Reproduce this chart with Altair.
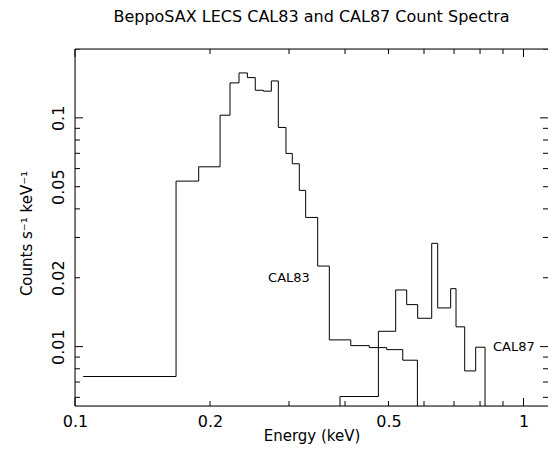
import altair as alt
import pandas as pd

# ---- data ----
cal83_edges = [0.1043, 0.168, 0.1887, 0.2106, 0.2216, 0.2321, 0.2423, 0.2523, 0.263, 0.274,
               0.284, 0.2954, 0.3051, 0.3163, 0.3268, 0.3476, 0.369, 0.412, 0.453, 0.4955,
               0.538, 0.58]
cal83_counts = [0.0074, 0.0529, 0.0611, 0.1027, 0.1422, 0.1572, 0.150, 0.132, 0.1308, 0.145,
                0.0908, 0.0699, 0.063, 0.0482, 0.0367, 0.0225, 0.0107, 0.0101, 0.0099, 0.0097,
                0.00872]
cal87_edges = [0.3898, 0.4747, 0.5188, 0.549, 0.5808, 0.6242, 0.6437, 0.688, 0.7072, 0.7394,
               0.7822, 0.8208]
cal87_counts = [0.00605, 0.01167, 0.01769, 0.01526, 0.0133, 0.02828, 0.01476, 0.01792, 0.0122,
                0.00783, 0.00994]

x_tick_labels = [0.1, 0.2, 0.5, 1.0]
y_tick_labels = [0.01, 0.02, 0.05, 0.1]
x_major = [0.1, 1.0]
x_minor = [0.2, 0.3, 0.4, 0.5, 0.6, 0.7, 0.8, 0.9]
y_major = [0.01, 0.1]
y_minor = [0.006, 0.007, 0.008, 0.009, 0.02, 0.03, 0.04, 0.05, 0.06, 0.07, 0.08, 0.09, 0.2]

label_names = ["CAL83", "CAL87"]
label_energy = [0.3, 0.855]
label_counts = [0.02, 0.01]
label_align = ["center", "left"]

x_domain = [0.1, 1.134]
y_domain = [0.0055, 0.2]
FLOOR = 0.001  # below the visible range: lines drop off the bottom

W, H = 473, 357
MAJOR, MINOR = 8, 5
FONT = "DejaVu Sans"


def steps(name, edges, counts, rise_from_floor):
    e, c = [], []
    if rise_from_floor:
        e.append(edges[0]); c.append(FLOOR)
    for ed, ct in zip(edges[:-1], counts):
        e.append(ed); c.append(ct)
    e.append(edges[-1]); c.append(FLOOR)
    return pd.DataFrame({"energy": e, "counts": c, "order": list(range(len(e))), "series": name})


spec_df = pd.concat([
    steps("CAL83", cal83_edges, cal83_counts, False),
    steps("CAL87", cal87_edges, cal87_counts, True),
])

xs = alt.Scale(type="log", domain=x_domain, nice=False)
ys = alt.Scale(type="log", domain=y_domain, nice=False)

xax = alt.Axis(values=x_tick_labels, format="~g", ticks=False, domain=False, grid=False,
               labelFont=FONT, labelFontSize=16, labelPadding=7, labelColor="black",
               labelFlush=False, labelOverlap=False,
               title="Energy (keV)", titleFont=FONT, titleFontSize=15, titleFontWeight="normal",
               titleColor="black", titleY=34.5, titleBaseline="alphabetic")
yax = alt.Axis(values=y_tick_labels, format="~g", ticks=False, domain=False, grid=False,
               labelFont=FONT, labelFontSize=16, labelPadding=9, labelColor="black",
               labelAngle=270, labelAlign="center", labelBaseline="bottom",
               labelFlush=False, labelOverlap=False,
               title="Counts s⁻¹ keV⁻¹", titleFont=FONT, titleFontSize=15,
               titleFontWeight="normal", titleColor="black", titlePadding=16, titleY=184)

X = alt.X("energy:Q", scale=xs, axis=xax)
Y = alt.Y("counts:Q", scale=ys, axis=yax)

lines = alt.Chart(spec_df).mark_line(interpolate="step-after", color="black",
                                     strokeWidth=1, clip=True).encode(
    x=X, y=Y, detail="series:N", order="order:Q")

layers = [lines]

# frame on left, top and bottom (right edge lies beyond the picture)
frame = pd.DataFrame({"energy": [x_domain[0]]})
layers.append(alt.Chart(frame).mark_rule(color="black", strokeWidth=1).encode(
    x=alt.value(0), y=alt.value(0), y2=alt.value(H)))
layers.append(alt.Chart(frame).mark_rule(color="black", strokeWidth=1).encode(
    x=alt.value(0), x2=alt.value(W), y=alt.value(0)))
layers.append(alt.Chart(frame).mark_rule(color="black", strokeWidth=1).encode(
    x=alt.value(0), x2=alt.value(W), y=alt.value(H)))


def xticks(vals, length):
    df = pd.DataFrame({"energy": vals})
    top = alt.Chart(df).mark_rule(color="black", strokeWidth=1).encode(
        x=X, y=alt.value(0), y2=alt.value(length))
    bot = alt.Chart(df).mark_rule(color="black", strokeWidth=1).encode(
        x=X, y=alt.value(H), y2=alt.value(H - length))
    return [top, bot]


def yticks(vals, length):
    df = pd.DataFrame({"counts": vals})
    left = alt.Chart(df).mark_rule(color="black", strokeWidth=1, clip=True).encode(
        y=Y, x=alt.value(0), x2=alt.value(length))
    right = alt.Chart(df).mark_rule(color="black", strokeWidth=1, clip=True).encode(
        y=Y, x=alt.value(W), x2=alt.value(W - length))
    return [left, right]


layers += xticks(x_major, MAJOR) + xticks(x_minor, MINOR)
layers += yticks(y_major, MAJOR) + yticks(y_minor, MINOR)

lab_df = pd.DataFrame({"energy": label_energy, "counts": label_counts, "name": label_names,
                       "align": label_align})
for al in ["center", "left"]:
    layers.append(
        alt.Chart(lab_df[lab_df["align"] == al]).mark_text(
            align=al, baseline="middle", font=FONT, fontSize=13, color="black").encode(
            x=X, y=Y, text="name:N")
    )

chart = alt.layer(*layers).properties(
    width=W, height=H,
    title=alt.TitleParams("BeppoSAX LECS CAL83 and CAL87 Count Spectra", font=FONT,
                          fontSize=16, fontWeight="normal", color="black", anchor="middle",
                          offset=24),
    autosize=alt.AutoSizeParams(type="none"),
    padding={"left": 67, "top": 41, "right": 0, "bottom": 38},
).configure_view(strokeWidth=0).configure(background="white")

chart.save("out.html", embed_options={"renderer": "svg", "actions": False})
